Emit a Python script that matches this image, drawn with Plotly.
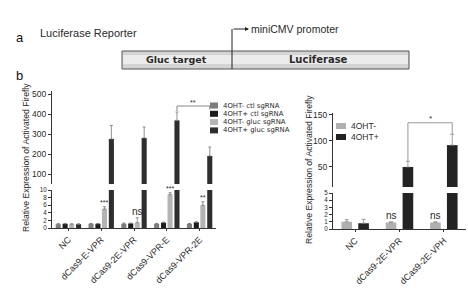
import plotly.graph_objects as go

W, H = 468, 291
def X(px): return px / W
def Y(py): return 1 - py / H

# ---------------- data ----------------
left_cats = ["NC", "dCas9-E-VPR", "dCas9-2E-VPR", "dCas9-VPR-E", "dCas9-VPR-2E"]
left_names = ["4OHT- ctl sgRNA", "4OHT+ ctl sgRNA", "4OHT- gluc sgRNA", "4OHT+ gluc sgRNA"]
ctl_minus = [1.0, 1.1, 1.1, 1.1, 1.1]
ctl_plus = [1.1, 1.1, 1.2, 1.4, 1.5]
gluc_minus = [1.0, 5.0, 1.4, 8.8, 6.0]
gluc_plus = [1.0, 275, 280, 368, 190]
ctl_minus_err = [0.15, 0.1, 0.2, 0.1, 0.1]
ctl_plus_err = [0.1, 0.1, 0.1, 0.15, 0.15]
gluc_minus_err = [0.1, 0.6, 1.3, 0.5, 0.9]
gluc_plus_err = [0.1, 68, 55, 42, 45]
left_sig = ["", "***", "ns", "***", "**"]
left_bracket = {"from": 3, "to": 4, "y": 440, "text": "**"}

right_cats = ["NC", "dCas9-2E-VPR", "dCas9-2E-VPH"]
right_names = ["4OHT-", "4OHT+"]
oht_minus = [1.0, 0.9, 0.9]
oht_plus = [0.8, 50, 92]
oht_minus_err = [0.3, 0.1, 0.1]
oht_plus_err = [0.55, 11, 21]
right_sig = ["", "ns", "ns"]
right_bracket = {"from": 1, "to": 2, "y": 135, "text": "*"}

left_ticks_low = [0, 2, 4, 6, 8, 10]
left_ticks_high = [100, 200, 300, 400, 500]
right_ticks_low = [0, 1, 2, 3, 4, 5]
right_ticks_high = [50, 100, 150]

# ---------------- styles ----------------
FONT = "Liberation Sans, Arial, sans-serif"
TXT = "#2a2a2a"
AX = "#333333"
left_colors = ["#7d7d7d", "#1c1c1c", "#b4b4b4", "#2e2e2e"]
right_colors = ["#b0b0b0", "#232323"]
L_W = 0.155
L_OFF = [-0.31, -0.10, 0.10, 0.31]
R_W = 0.24
R_OFF = [-0.19, 0.19]

fig = go.Figure()

left_vals = [ctl_minus, ctl_plus, gluc_minus, gluc_plus]
left_errs = [ctl_minus_err, ctl_plus_err, gluc_minus_err, gluc_plus_err]
for ya in ["y", "y2"]:
    for k in range(4):
        fig.add_trace(go.Bar(
            x=left_cats, y=left_vals[k], xaxis="x", yaxis=ya,
            width=L_W, offset=L_OFF[k] - L_W / 2,
            marker=dict(color=left_colors[k], line=dict(width=0)),
            error_y=dict(type="data", array=left_errs[k], arrayminus=[0] * len(left_cats),
                         symmetric=False, thickness=0.8, width=1.5, color="#777"),
            showlegend=False, name=left_names[k]))

right_vals = [oht_minus, oht_plus]
right_errs = [oht_minus_err, oht_plus_err]
for ya in ["y3", "y4"]:
    for k in range(2):
        fig.add_trace(go.Bar(
            x=right_cats, y=right_vals[k], xaxis="x2", yaxis=ya,
            width=R_W, offset=R_OFF[k] - R_W / 2,
            marker=dict(color=right_colors[k], line=dict(width=0)),
            error_y=dict(type="data", array=right_errs[k], arrayminus=[0] * len(right_cats),
                         symmetric=False, thickness=0.8, width=2, color="#8a8a8a"),
            showlegend=False, name=right_names[k]))

tickfont = dict(family=FONT, size=8.5, color=TXT)
common_y = dict(showline=True, linecolor=AX, linewidth=1, ticks="outside", ticklen=3,
                tickcolor=AX, showgrid=False, zeroline=False,
                automargin=False, fixedrange=True)
common_x = dict(showline=True, linecolor=AX, linewidth=1, ticks="outside", ticklen=2,
                tickcolor=AX, showgrid=False, zeroline=False, tickangle=-45,
                tickfont=dict(family=FONT, size=9, color=TXT), automargin=False,
                type="category")
lowfont = dict(family=FONT, size=6.3, color=TXT)

fig.update_layout(
    width=W, height=H, margin=dict(l=0, r=0, t=0, b=0),
    paper_bgcolor="white", plot_bgcolor="white", barmode="overlay",
    showlegend=False,
    xaxis=dict(domain=[X(52), X(216)], anchor="y", categoryorder="array",
               categoryarray=left_cats, range=[-0.5, 4.5], **common_x),
    yaxis=dict(domain=[Y(228), Y(190)], range=[0, 10], tickvals=left_ticks_low,
               anchor="x", tickfont=lowfont, **common_y),
    yaxis2=dict(domain=[Y(184), Y(91)], range=[50, 515], tickvals=left_ticks_high,
                anchor="x", tickfont=tickfont, **common_y),
    xaxis2=dict(domain=[X(333), X(466)], anchor="y3", categoryorder="array",
                categoryarray=right_cats, range=[-0.5, 2.5], **common_x),
    yaxis3=dict(domain=[Y(229), Y(193)], range=[0, 5], tickvals=right_ticks_low,
                anchor="x2", tickfont=lowfont, **common_y),
    yaxis4=dict(domain=[Y(187), Y(113)], range=[11.5, 153.8], tickvals=right_ticks_high,
                anchor="x2", tickfont=tickfont, **common_y),
)

ann = []
shapes = []

# significance marks
for i, s in enumerate(left_sig):
    if s:
        ann.append(dict(x=i + L_OFF[2], y=gluc_minus[i] + gluc_minus_err[i], xref="x", yref="y",
                        text=s, showarrow=False, yanchor="bottom", xanchor="center", yshift=-1,
                        font=dict(family=FONT, size=7 if s != "ns" else 10, color=TXT)))
for i, s in enumerate(right_sig):
    if s:
        ann.append(dict(x=i + R_OFF[0], y=oht_minus[i] + oht_minus_err[i], xref="x2", yref="y3",
                        text=s, showarrow=False, yanchor="bottom", xanchor="center", yshift=-1,
                        font=dict(family=FONT, size=10, color=TXT)))

# brackets
b = left_bracket
x1, x2 = b["from"] + L_OFF[3], b["to"] + L_OFF[3]
for (a0, b0, a1, b1) in [(x1, b["y"], x2, b["y"]), (x1, b["y"], x1, b["y"] - 25), (x2, b["y"], x2, b["y"] - 18)]:
    shapes.append(dict(type="line", xref="x", yref="y2", x0=a0, y0=b0, x1=a1, y1=b1,
                       line=dict(color="#888", width=1)))
ann.append(dict(x=(x1 + x2) / 2, y=b["y"], xref="x", yref="y2", text=b["text"], showarrow=False,
                yanchor="bottom", xanchor="center", yshift=-2, font=dict(family=FONT, size=7, color=TXT)))

b = right_bracket
x1, x2 = b["from"] + R_OFF[1], b["to"] + R_OFF[1]
yl = oht_plus[b["from"]] + oht_plus_err[b["from"]]
yr = oht_plus[b["to"]] + oht_plus_err[b["to"]]
for (a0, b0, a1, b1) in [(x1, b["y"], x2, b["y"]), (x1, b["y"], x1, yl), (x2, b["y"], x2, yr)]:
    shapes.append(dict(type="line", xref="x2", yref="y4", x0=a0, y0=b0, x1=a1, y1=b1,
                       line=dict(color="#999", width=1)))
ann.append(dict(x=(x1 + x2) / 2, y=b["y"], xref="x2", yref="y4", text=b["text"], showarrow=False,
                yanchor="bottom", xanchor="center", yshift=-2, font=dict(family=FONT, size=8, color=TXT)))

# custom legends
for k, name in enumerate(left_names):
    yc = 105.5 + k * 8.3
    shapes.append(dict(type="rect", xref="paper", yref="paper", x0=X(210), x1=X(218),
                       y0=Y(yc + 3), y1=Y(yc - 3), fillcolor=left_colors[k], line=dict(width=0)))
    ann.append(dict(x=X(221), y=Y(yc), xref="paper", yref="paper", text=name, showarrow=False,
                    xanchor="left", yanchor="middle",
                    font=dict(family="DejaVu Sans", size=6.9, color=TXT)))
for k, name in enumerate(right_names):
    yc = 126 + k * 11
    shapes.append(dict(type="rect", xref="paper", yref="paper", x0=X(336), x1=X(346),
                       y0=Y(yc + 3), y1=Y(yc - 3), fillcolor=right_colors[k], line=dict(width=0)))
    ann.append(dict(x=X(349), y=Y(yc), xref="paper", yref="paper", text=name, showarrow=False,
                    xanchor="left", yanchor="middle", font=dict(family=FONT, size=8.5, color=TXT)))

# axis titles
ytitle = "Relative Expression of Activated Firefly"
ann.append(dict(x=X(26), y=Y(158), xref="paper", yref="paper", text=ytitle, textangle=-90,
                showarrow=False, xanchor="center", yanchor="middle",
                font=dict(family=FONT, size=8.6, color=TXT)))
ann.append(dict(x=X(309), y=Y(170), xref="paper", yref="paper", text=ytitle, textangle=-90,
                showarrow=False, xanchor="center", yanchor="middle",
                font=dict(family=FONT, size=8.6, color=TXT)))

# panel a
shapes.append(dict(type="rect", xref="paper", yref="paper", x0=X(122), x1=X(409), y0=Y(69), y1=Y(51),
                   fillcolor="#d4d4d4", line=dict(color="#555", width=1)))
shapes.append(dict(type="rect", xref="paper", yref="paper", x0=X(123), x1=X(408), y0=Y(64), y1=Y(55),
                   fillcolor="#ececec", line=dict(width=0)))
shapes.append(dict(type="line", xref="paper", yref="paper", x0=X(232), x1=X(232), y0=Y(69), y1=Y(29),
                   line=dict(color="#222", width=1)))
ann.append(dict(x=X(249), y=Y(29), xref="paper", yref="paper", ax=-17, ay=0, text="",
                showarrow=True, arrowhead=2, arrowsize=0.8, arrowwidth=1, arrowcolor="#222"))
ann.append(dict(x=X(249), y=Y(29), xref="paper", yref="paper", text="miniCMV promoter",
                showarrow=False, xanchor="left", yanchor="middle",
                font=dict(family=FONT, size=10.5, color=TXT)))
ann.append(dict(x=X(176), y=Y(60), xref="paper", yref="paper", text="<b>Gluc target</b>",
                showarrow=False, xanchor="center", yanchor="middle",
                font=dict(family="DejaVu Sans", size=9.5, color=TXT)))
ann.append(dict(x=X(318), y=Y(60), xref="paper", yref="paper", text="<b>Luciferase</b>",
                showarrow=False, xanchor="center", yanchor="middle",
                font=dict(family="DejaVu Sans", size=10, color=TXT)))
ann.append(dict(x=X(38), y=Y(33), xref="paper", yref="paper", text="Luciferase Reporter",
                showarrow=False, xanchor="left", yanchor="middle",
                font=dict(family=FONT, size=11, color=TXT)))
ann.append(dict(x=X(14), y=Y(38), xref="paper", yref="paper", text="a",
                showarrow=False, xanchor="left", yanchor="middle",
                font=dict(family=FONT, size=13, color="#111")))
ann.append(dict(x=X(14), y=Y(76), xref="paper", yref="paper", text="b",
                showarrow=False, xanchor="left", yanchor="middle",
                font=dict(family=FONT, size=13, color="#111")))

fig.update_layout(annotations=ann, shapes=shapes)
fig.write_html("out.html")
